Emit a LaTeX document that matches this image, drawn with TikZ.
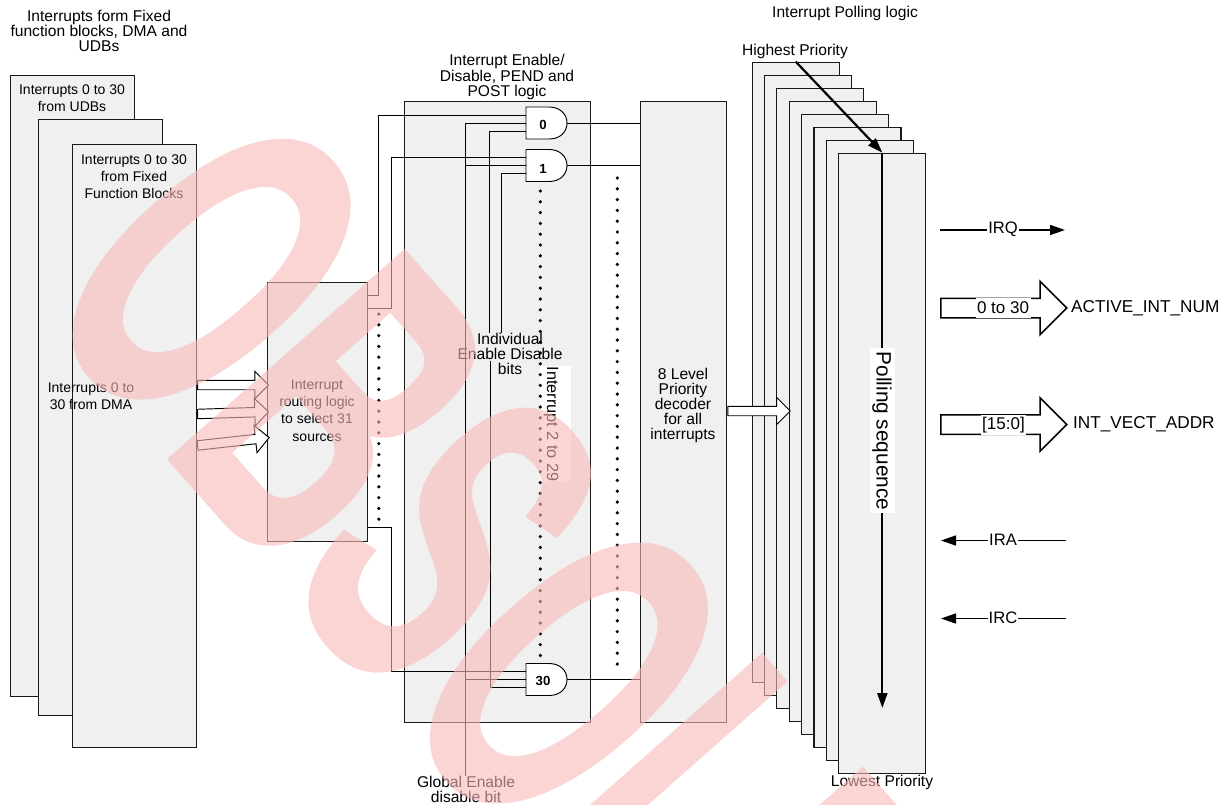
\documentclass[tikz,border=0pt]{standalone}
\usepackage{fontspec}
\setmainfont{Liberation Sans}
\newfontfamily\wmfont[FakeBold=1]{Liberation Sans Bold}
\usetikzlibrary{shapes.arrows,arrows.meta,calc}
\definecolor{boxfill}{HTML}{F0F0F0}
\definecolor{wm}{RGB}{249,184,184}
\newcommand{\fsz}[2]{\fontsize{#1pt}{#2pt}\selectfont}
\tikzset{
 box/.style={draw=black!90,fill=boxfill,line width=1.1pt,inner sep=0,anchor=north west},
 wire/.style={draw=black,line width=.95pt},
 sig/.style={draw=black,line width=1.6pt},
 sigthick/.style={draw=black,line width=2.2pt},
 sighead/.style={-{Triangle[length=15pt,width=10pt]}},
 lbl/.style={inner sep=0,align=center,font=\fsz{15.6}{15.2}},
 lblsm/.style={inner sep=0,align=center,font=\fsz{14}{17.2}},
 lblbus/.style={inner sep=0,font=\fsz{17.2}{18}},
 gatelbl/.style={inner sep=0,font=\fsz{13.2}{14}\bfseries},
 gategeo/.style={draw=none,inner sep=0,minimum width=41pt,minimum height=32pt},
 gateshape/.style={draw=black,fill=white,line width=.95pt},
 hollow/.style={single arrow,draw=black,fill=white,line width=.95pt,inner sep=0,
   text height=8.5pt,text depth=0pt,text width=0pt,single arrow head extend=9pt,
   single arrow tip angle=90,single arrow head indent=0pt,anchor=tail},
 bus/.style={single arrow,draw=black,fill=white,line width=1.5pt,inner sep=0,
   text height=18pt,text depth=0pt,text width=0pt,single arrow head extend=17pt,
   minimum height=126pt,single arrow tip angle=90,single arrow head indent=0pt,anchor=tail},
}
\newcommand{\gateat}[4]{% name, top y, label, label y
 \draw[gateshape] (526,#2) -- (549,#2) .. controls (560,#2) and (567,#2+7) .. (567,#2+16)
   .. controls (567,#2+25) and (560,#2+32) .. (549,#2+32) -- (526,#2+32) -- cycle;
 \node[gategeo] (#1) at (546.5,#2+16) {};
 \node[gatelbl] (#1t) at (543,#4) {#3};
}
\begin{document}
\begin{tikzpicture}[x=1pt,y=-1pt]
\useasboundingbox (0,0) rectangle (1228,804);
% left stack
\node[box,minimum width=124pt,minimum height=621pt] (udb) at (9.7,75) {};
\node[box,minimum width=124pt,minimum height=596pt] (dma) at (38,118.5) {};
\node[box,minimum width=124pt,minimum height=603pt] (ffb) at (72,144) {};
\node[lbl] (ttl1) at (99,31) {Interrupts form Fixed\\function blocks, DMA and\\UDBs};
\node[lblsm] (tudb) at (72,98.5) {Interrupts 0 to 30\\from UDBs};
\node[lblsm] (tffb) at (134,176.5) {Interrupts 0 to 30\\from Fixed\\Function Blocks};
\node[lblsm] (tdma) at (91,396.5) {Interrupts 0 to\\30 from DMA};
% routing
\node[box,minimum width=99.5pt,minimum height=258.5pt] (route) at (267,282) {};
\node[lblsm] (troute) at (317,410.5) {Interrupt\\routing logic\\to select 31\\sources};
\node[hollow,minimum height=71pt] (ha1) at (ffb.east |- 0,385) {};
\node[hollow,minimum height=71pt,rotate=1.8] (ha2) at (ffb.east |- 0,414) {};
\node[hollow,minimum height=72pt,rotate=6.3] (ha3) at (ffb.east |- 0,445.5) {};
% enable box
\node[box,minimum width=186.5pt,minimum height=621pt] (en) at (403.5,100.5) {};
\node[lbl] (ten) at (507,77) {Interrupt Enable/\\Disable, PEND and\\POST logic};
% decoder
\node[box,minimum width=86.5pt,minimum height=621pt] (dec) at (639.7,100.5) {};
\node[lbl] (tdec) at (683,405.5) {8 Level\\Priority\\decoder\\for all\\interrupts};
% wires behind gates
\node[lbl] (tind) at (510,354) {Individual\\Enable Disable\\bits};
\node[lbl] (tglob) at (466,789.5) {Global Enable\\disable bit};
\gateat{g0}{107}{0}{125}
\gateat{g1}{149.5}{1}{169.3}
\gateat{g30}{663.5}{30}{681}
\draw[wire] (route.east |- 0,295) -- (378.6,295) -- (378.6,115) -- (g0.west |- 0,115);
\draw[wire] (route.east |- 0,308) -- (391,308) -- (391,157.6) -- (g1.west |- 0,157.6);
\draw[wire] (route.east |- 0,527.5) -- (391,527.5) -- (391,671.5) -- (g30.west |- 0,671.5);
\draw[wire] (tglob.north -| 465.8,0) -- (465.8,123) -- (g0.west |- 0,123);
\draw[wire] (465.8,165.6) -- (g1.west |- 0,165.6);
\draw[wire] (465.8,679.5) -- (g30.west |- 0,679.5);
\draw[wire] (tind.north -| 489,0) -- (489,131) -- (g0.west |- 0,131);
\draw[wire] (tind.north -| 501.8,0) -- (501.8,173.6) -- (g1.west |- 0,173.6);
\draw[wire] (490.6,361) -- (490.6,687.5) -- (g30.west |- 0,687.5);
\draw[wire] (g0.east) -- (dec.west |- g0.east);
\draw[wire] (g1.east) -- (dec.west |- g1.east);
\draw[wire] (g30.east) -- (dec.west |- g30.east);
% dots and white label
\node[fill=white,inner sep=0,minimum width=30.5pt,minimum height=116pt] (bg229) at (555.5,424) {};
\node[inner sep=0,rotate=-90,font=\fsz{16.3}{18}] (t229) at (551,424) {Interrupt 2 to 29};
\foreach \i in {0,...,43} \fill (540.3,191+10.8*\i) circle (1.8pt);
\foreach \i in {0,...,45} \fill (617.3,178+10.8*\i) circle (1.8pt);
\foreach \i in {0,...,19} \fill (378.8,314+10.8*\i) circle (1.8pt);
% polling stack
\foreach \n/\xx/\yy in {1/751.7/61.7,2/764/74.7,3/776.3/87.7,4/788.7/100.7,5/801/113.7,6/813.4/126.7,7/825.8/139.7,8/838.3/152.7}
  \node[box,minimum width=87pt,minimum height=620.5pt] (p\n) at (\xx,\yy) {};
\node[hollow,minimum height=62.5pt] (ha4) at (dec.east |- 0,411) {};
\node[lbl,font=\fsz{15.6}{15}] (thigh) at (795,51) {Highest Priority};
\node[lbl] (tlow) at (882,782) {Lowest Priority};
\node[lbl] (tpoll) at (845,13) {Interrupt Polling logic};
\draw[sigthick,sighead] (p1.north) -- (p8.north);
\coordinate (pend) at (p8.north |- 0,708);
\draw[sigthick,sighead] (p8.north) -- (pend);
\node[fill=white,inner sep=0,minimum width=25pt,minimum height=165pt] (bgseq) at (882.5,430.5) {};
\node[inner sep=0,rotate=-90,font=\fsz{20.8}{22}] (tseq) at (882,431) {Polling sequence};
% right signals
\coordinate (irqa) at (940,230); \coordinate (irqb) at (1065,230);
\draw[sig,sighead] (irqa) -- (irqb);
\node[fill=white,inner sep=1pt,font=\fsz{16.6}{18}] (tirq) at (1003,229.5) {IRQ};
\coordinate (iraa) at (1066,540.5); \coordinate (irab) at (941,540.5);
\draw[sig,sighead] (iraa) -- (irab);
\node[fill=white,inner sep=1pt,font=\fsz{16.6}{18}] (tira) at (1003,540) {IRA};
\coordinate (irca) at (1066,618.5); \coordinate (ircb) at (941,618.5);
\draw[sig,sighead] (irca) -- (ircb);
\node[fill=white,inner sep=1pt,font=\fsz{16.6}{18}] (tirc) at (1003,618) {IRC};
\node[bus] (b1) at (940,308) {};
\node[fill=white,inner sep=1.5pt,minimum height=20pt,font=\fsz{17}{18}] (t030) at (1003,308) {0 to 30};
\node[bus] (b2) at (940,424.5) {};
\node[fill=white,inner sep=1.5pt,minimum height=20pt,font=\fsz{17}{18}] (t150) at (1003.5,425) {[15:0]};
\node[lblbus,anchor=west] (tact) at (1071,308) {ACTIVE\_INT\_NUM};
\node[lblbus,anchor=west] (tvec) at (1073,424.5) {INT\_VECT\_ADDR};
% watermark
\begin{scope}[transparency group,opacity=.6]
\clip (0,0) rectangle (1228,804);
\node[rotate=-48.5,anchor=base west,inner sep=0,text=wm,
  font=\fsz{455}{455}\wmfont] (wmark) at (30,301) {\scalebox{.547}[1]{OBSOLETE}};
\end{scope}
\end{tikzpicture}
\end{document}
